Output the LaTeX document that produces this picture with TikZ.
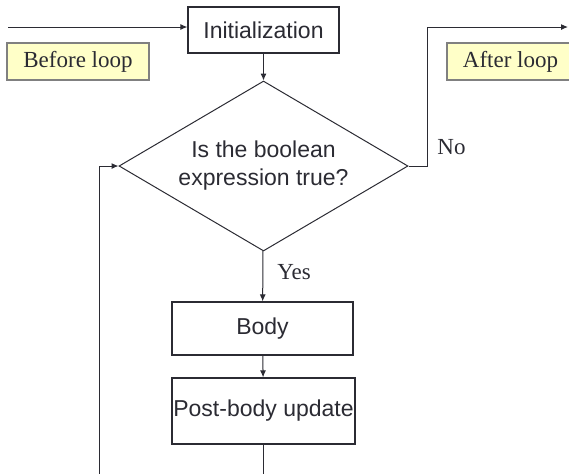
\documentclass[tikz,border=0pt]{standalone}
\usepackage{fontspec}
\setmainfont{Liberation Serif}
\setsansfont{Liberation Sans}
\usetikzlibrary{arrows.meta,positioning,shapes.geometric}
\definecolor{flowInk}{HTML}{2B2B33}
\definecolor{flowNote}{HTML}{FFFFC8}
\definecolor{flowEdge}{HTML}{808080}
\tikzset{
    >={Latex[length=3.5pt,width=3pt]},
    stepbox/.style={draw=flowInk, line width=0.6pt, fill=white, inner sep=0pt, align=center, text=flowInk, font=\sffamily\fontsize{11.5}{14}\selectfont},
    decision/.style={diamond, draw=flowInk, line width=0.5pt, aspect=1.7, inner sep=0pt, align=center, text=flowInk, font=\sffamily\fontsize{11.5}{14}\selectfont},
    note/.style={draw=flowEdge, line width=1pt, fill=flowNote, inner sep=0pt, text=flowInk, font=\rmfamily\fontsize{11.5}{14}\selectfont},
    branch/.style={anchor=west, inner sep=0pt, text=flowInk, font=\rmfamily\fontsize{11.5}{14}\selectfont},
    flow/.style={->, line width=0.5pt, draw=flowInk},
    wire/.style={line width=0.5pt, draw=flowInk}
}
\begin{document}
\begin{tikzpicture}[x=0.5pt,y=-0.5pt]
\clip (0,0) rectangle (569,473);
% notes
\node[note, minimum width=71pt, minimum height=18.5pt] (before) at (78,61.5) {Before loop};
\node[note, minimum width=63.5pt, minimum height=18.5pt] (after) at (510.5,61.5) {After loop};
% steps
\node[stepbox, minimum width=75.5pt, minimum height=23pt] (init) at (263.5,30) {Initialization};
\node[decision, minimum width=144.5pt, minimum height=85pt] (test) at (263.5,166) {Is the boolean\\expression true?};
\node[stepbox, minimum width=90.5pt, minimum height=26.5pt] (body) at (262.5,328.5) {Body};
\node[stepbox, minimum width=91.5pt, minimum height=33pt] (update) at (263.5,411) {Post-body update};
% free ends
\coordinate (enter) at (8,27);
\coordinate (turn) at (427,27);
\coordinate (leave) at (568,27);
\coordinate (down) at (263.5,480);
\coordinate (back) at (99,480);
% connectors
\draw[flow] (enter) -- (init.west |- enter);
\draw[flow] (init) -- (test);
\draw[flow] (test.east) -| (turn) -- (leave);
\node[branch] (no) at (437,147) {No};
\draw[flow] (test) -- (body);
\node[branch] (yes) at (277,272) {Yes};
\draw[flow] (body) -- (update);
\draw[wire] (update) -- (down);
\draw[flow] (back) |- (test.west);
\end{tikzpicture}
\end{document}
